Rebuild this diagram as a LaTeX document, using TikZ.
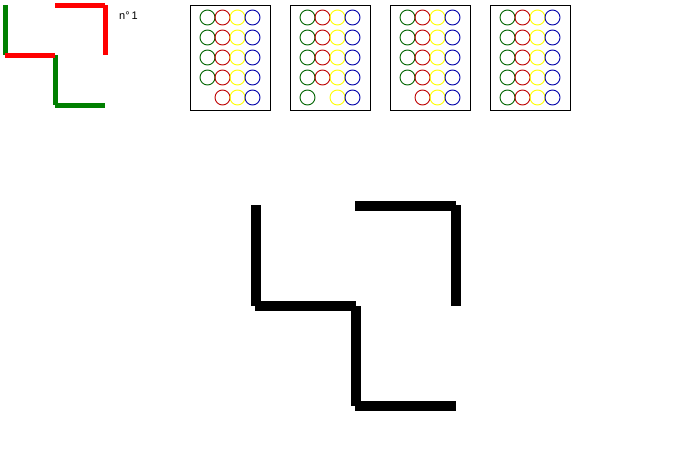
\documentclass[tikz,border=0pt]{standalone}
\usepackage{fontspec}
\setmainfont{Liberation Sans}
\definecolor{sgreen}{RGB}{0,128,0}
\definecolor{sred}{RGB}{255,0,0}
\definecolor{cgreen}{RGB}{0,100,0}
\definecolor{cred}{RGB}{190,0,0}
\definecolor{cyellow}{RGB}{255,255,0}
\definecolor{cblue}{RGB}{0,0,170}
\tikzset{
  bigseg/.style={line width=10pt, line cap=butt, black},
  smallseg/.style={line width=5pt, line cap=butt},
  panel/.style={draw=black, line width=1pt},
  dot/.style={line width=0.9pt}
}
\begin{document}
\begin{tikzpicture}[x=1pt,y=-1pt]
\useasboundingbox[fill=white] (0,0) rectangle (700,450);
% small figure
\draw[smallseg,sgreen] (5,5) -- (5,55);
\draw[smallseg,sgreen] (55,55) -- (55,105);
\draw[smallseg,sgreen] (55,105) -- (105,105);
\draw[smallseg,sred] (5,55) -- (55,55);
\draw[smallseg,sred] (55,5) -- (105,5);
\draw[smallseg,sred] (105,5) -- (105,55);
\node[anchor=west, inner sep=0pt, font=\fontsize{11}{13}\selectfont] (label) at (119,16) {n°\,1};
% panels
\foreach \i/\miss in {0/g,1/r,2/g,3/n} {
  \pgfmathsetmacro{\bx}{190+100*\i}
  \draw[panel] (\bx,5) rectangle (\bx+80,110);
  \foreach \r in {0,...,4} {
    \pgfmathsetmacro{\cy}{17.5+20*\r}
    \ifnum\r=4
      \if\miss g\else \draw[dot,cgreen] (\bx+17.5,\cy) circle (7.5); \fi
      \if\miss r\else \draw[dot,cred] (\bx+32.5,\cy) circle (7.5); \fi
    \else
      \draw[dot,cgreen] (\bx+17.5,\cy) circle (7.5);
      \draw[dot,cred] (\bx+32.5,\cy) circle (7.5);
    \fi
    \draw[dot,cyellow] (\bx+47.5,\cy) circle (7.5);
    \draw[dot,cblue] (\bx+62.5,\cy) circle (7.5);
  }
}
% big figure
\draw[bigseg] (256,205) -- (256,306);
\draw[bigseg] (255,306) -- (356,306);
\draw[bigseg] (356,306) -- (356,406);
\draw[bigseg] (355,406) -- (456,406);
\draw[bigseg] (355,206) -- (456,206);
\draw[bigseg] (456,205) -- (456,306);
\end{tikzpicture}
\end{document}
